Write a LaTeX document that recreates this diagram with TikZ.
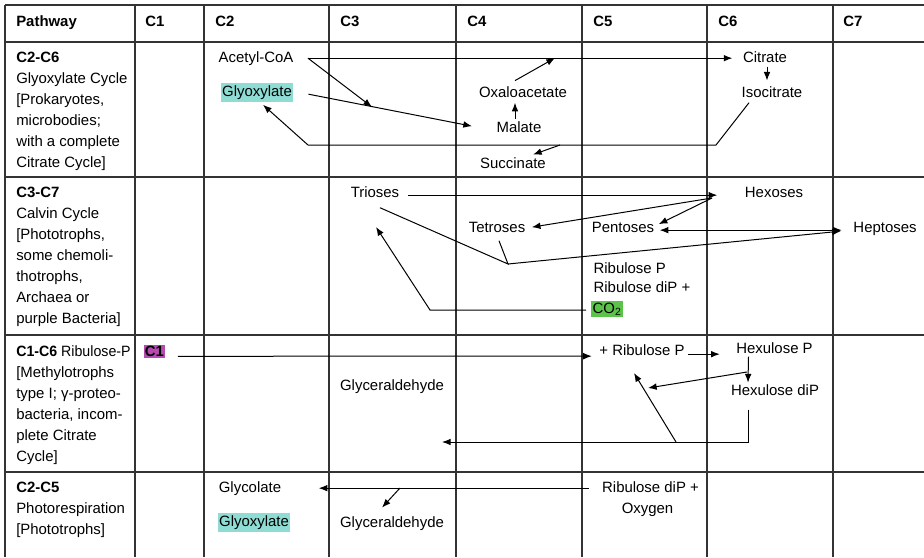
\documentclass[tikz,border=0pt]{standalone}
\usepackage{fontspec}
\setmainfont{Liberation Sans}
\usepackage{tikz}
\usetikzlibrary{arrows.meta, calc}
\definecolor{glyteal}{HTML}{8EDCD4}
\definecolor{cogreen}{HTML}{5CC34A}
\definecolor{conemag}{HTML}{B54AB0}
\newcommand{\cellfont}{\fontsize{11.2pt}{15.75pt}\selectfont}
\tikzstyle{tableline} = [line width=1pt, draw=black!80]
\tikzstyle{txt} = [anchor=base, inner sep=1pt, text height=8.1pt, text depth=2.35pt]
\tikzstyle{hilite} = [txt, fill=glyteal, inner ysep=1.8pt]
\tikzstyle{pathway} = [anchor=base west, align=left, inner sep=0pt]
\tikzstyle{arrow} = [line width=0.75pt, -{Latex[length=6.5pt,width=5pt]}]
\tikzstyle{dblarrow} = [line width=0.75pt, {Latex[length=6.5pt,width=5pt]}-{Latex[length=6.5pt,width=5pt]}]
\tikzstyle{link} = [line width=0.75pt]

\begin{document}
\begin{tikzpicture}[x=0.75pt, y=-0.75pt, every node/.style={font=\cellfont}]
  \useasboundingbox (0,0) rectangle (924,557);
  % table
  \foreach \x in {5,135,204,329,456,582,707,833}
    \draw[tableline] (\x,5) -- (\x,557);
  \foreach \y in {5,42,177,335,472}
    \draw[tableline] (5,\y) -- (924,\y);

  % header row
  \foreach \x/\nm/\lab in {16/pw/Pathway, 145/c1/C1, 215/c2/C2, 340/c3/C3, 467/c4/C4, 593/c5/C5, 718/c6/C6, 843/c7/C7}
    \node[pathway, font=\cellfont\bfseries] (hd-\nm) at (\x,26) {\lab};

  % pathway column (base = last line, 21px per line)
  \node[pathway] (pw1) at (16,167) {\textbf{C2-C6}\\Glyoxylate Cycle\\{[}Prokaryotes,\\microbodies;\\with a complete\\Citrate Cycle]};
  \node[pathway] (pw2) at (16,323) {\textbf{C3-C7}\\Calvin Cycle\\{[}Phototrophs,\\some chemoli-\\thotrophs,\\Archaea or\\purple Bacteria]};
  \node[pathway] (pw3) at (16,461) {\scalebox{0.95}[1]{\textbf{C1-C6} Ribulose-P}\\{[}Methylotrophs\\type I; γ-proteo-\\bacteria, incom-\\plete Citrate\\Cycle]};
  \node[pathway] (pw4) at (16,534) {\textbf{C2-C5}\\Photorespiration\\{[}Phototrophs]};

  % glyoxylate cycle
  \node[txt] (acoa) at (256,62) {Acetyl-CoA};
  \node[hilite] (glyox1) at (257,96) {Glyoxylate};
  \node[txt] (oxalo) at (523,97) {Oxaloacetate};
  \node[txt] (malate) at (519,132) {Malate};
  \node[txt] (succ) at (513,168) {Succinate};
  \node[txt] (citrate) at (765,62) {Citrate};
  \node[txt] (isocit) at (772,97) {Isocitrate};
  \coordinate (gmj) at (372,107);
  \coordinate (oxj) at (555,58);
  \coordinate (isb1) at (716,145);
  \coordinate (isb2) at (308,145);
  \coordinate (sj) at (560,145);

  \draw[arrow] ($(acoa.east)+(13,0)$) -- ($(citrate.west)+(-9,0)$);
  \draw[arrow] ($(acoa.east)+(13,0)$) -- (gmj);
  \draw[arrow] ($(glyox1.east)+(15,2)$) -- ($(malate.west)+(-23,-2)$);
  \draw[arrow] ($(malate.north)+(-4,-1)$) -- ($(oxalo.south)+(-8,1)$);
  \draw[arrow] ($(oxalo.north)+(-8,-4)$) -- (oxj);
  \draw[arrow] ($(citrate.south)+(2,0)$) -- ($(citrate.south |- isocit.north)+(2,-4)$);
  \draw[arrow] ($(isocit.south)+(-23,1)$) -- (isb1) -- (isb2) -- ($(glyox1.south)+(6,3)$);
  \draw[arrow] (sj) -- ($(succ.north)+(20,-1)$);

  % calvin cycle
  \node[txt] (trioses) at (375,197) {Trioses};
  \node[txt] (hexoses) at (774,197) {Hexoses};
  \node[txt] (tetroses) at (497,232) {Tetroses};
  \node[txt] (pentoses) at (623,232) {Pentoses};
  \node[txt] (heptoses) at (885,232) {Heptoses};
  \node[txt, anchor=base west] (ribp) at (592,273) {Ribulose P};
  \node[txt, anchor=base west] (ribdp) at (592,292) {Ribulose diP +};
  \node[txt, anchor=base west, fill=cogreen] (co2) at (591,313) {CO\textsubscript{2}};
  \coordinate (hxj) at (712,198);
  \coordinate (tj) at (508,264);
  \coordinate (cob) at (430,310);
  \coordinate (trin) at (376,227);

  \draw[arrow] ($(trioses.east)+(7,2)$) -- ($(hexoses.west)+(-26,2)$);
  \draw[arrow] (hxj) -- ($(tetroses.east)+(5,-1)$);
  \draw[arrow] (hxj) -- ($(pentoses.east)+(3,-4)$);
  \draw[dblarrow] ($(pentoses.east)+(4,2)$) -- ($(heptoses.west)+(-10,2)$);
  \draw[link] ($(trioses.south)+(5,6)$) -- (tj) -- ($(tetroses.south)+(2,4)$);
  \draw[arrow] (tj) -- ($(heptoses.west)+(-11,3)$);
  \draw[arrow] ($(co2.west)+(-5,1)$) -- (cob) -- (trin);

  % ribulose-P pathway
  \node[txt, fill=conemag, font=\cellfont\bfseries, inner sep=0.5pt, text depth=1pt] (c1src) at (154.5,356) {C1};
  \node[txt] (ribp3) at (642,355) {+ Ribulose P};
  \node[txt] (hexp) at (774.5,353) {Hexulose P};
  \node[txt] (hexdp) at (775,395) {Hexulose diP};
  \node[txt] (glyc3) at (392,390) {Glyceraldehyde};
  \coordinate (hpj) at (747,372);
  \coordinate (rpin) at (648,388);
  \coordinate (hdb) at (748,442);
  \coordinate (glin) at (442,442);
  \coordinate (rpj) at (676,442);
  \coordinate (rpin2) at (634,373);

  \draw[arrow] ($(c1src.east)+(13,5)$) -- ($(ribp3.west)+(-6,5)$);
  \draw[arrow] ($(ribp3.east)+(2,3)$) -- ($(hexp.west)+(-15,5)$);
  \draw[arrow] ($(hexp.south)+(-26,-1)$) -- ($(hexdp.north)+(-27,0)$);
  \draw[arrow] (hpj) -- (rpin);
  \draw[arrow] ($(hexdp.south)+(-27,10)$) -- (hdb) -- (glin);
  \draw[arrow] (rpj) -- (rpin2);

  % photorespiration
  \node[txt] (glycol) at (250,492) {Glycolate};
  \node[hilite] (glyox2) at (254,526) {Glyoxylate};
  \node[txt] (glyc4) at (392,527) {Glyceraldehyde};
  \node[txt] (rdp) at (650.5,492) {Ribulose diP +};
  \node[txt] (oxy) at (647.5,513) {Oxygen};
  \coordinate (gyj) at (400,488);

  \draw[arrow] ($(rdp.west)+(-12,0)$) -- ($(glycol.east)+(36,0)$);
  \draw[arrow] (gyj) -- ($(glyc4.north)+(-10,-7)$);
\end{tikzpicture}
\end{document}
